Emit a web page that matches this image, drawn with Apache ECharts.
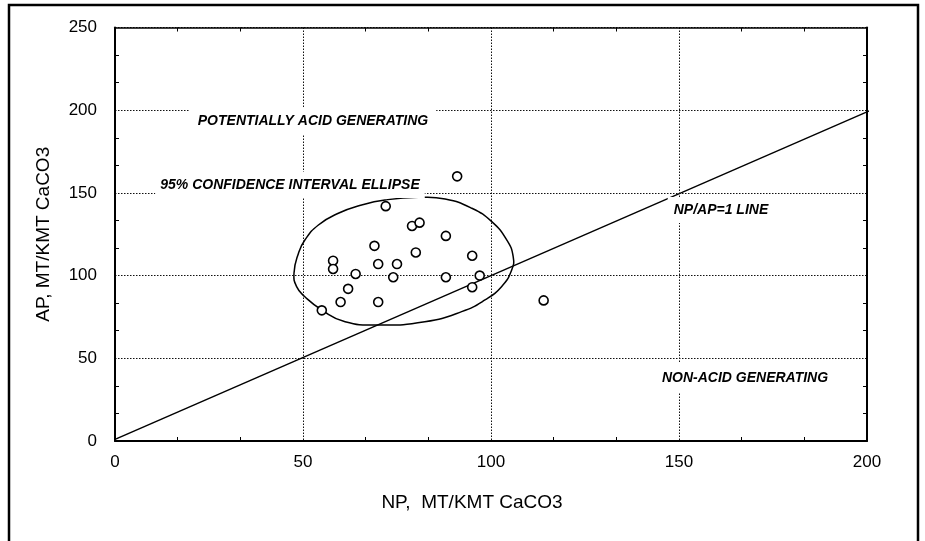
<!DOCTYPE html>
<html><head><meta charset="utf-8">
<script src="https://cdn.jsdelivr.net/npm/echarts@6/dist/echarts.min.js"></script>
<style>html,body{margin:0;padding:0;background:#fff}#c{width:925px;height:541px}</style>
</head><body><div id="c"></div>
<script>
// Sample points (NP vs AP, MT/KMT CaCO3)
const npValues = [72, 79, 81, 69, 80, 58, 58, 70, 75, 64, 74, 62, 60, 70, 55, 91, 88, 95, 88, 97, 95, 114];
const apValues = [142, 130, 132, 118, 114, 109, 104, 107, 107, 101, 99, 92, 84, 84, 79, 160, 124, 112, 99, 100, 93, 85];

// 95% confidence ellipse outline
const ellipseNP = [47.6, 48.8, 50.5, 54.1, 59.4, 65.6, 71.8, 80.7, 87.8, 94.9, 100.2, 104.2, 105.9, 105.5, 102.8, 98.4, 92.2, 82.4, 70.0, 61.2, 55.0, 50.5, 48.3];
const ellipseAP = [101.4, 113.5, 121.5, 130.6, 137.7, 142.7, 145.7, 147.3, 146.3, 140.7, 132.6, 121.5, 111.4, 103.4, 93.3, 85.3, 78.2, 72.1, 70.1, 72.1, 79.2, 87.2, 93.3];

// NP/AP = 1 line end points
const ratioLineNP = [0, 201];
const ratioLineAP = [1, 200];

// Axis ticks
const xTicks = [0, 50, 100, 150, 200];
const yTicks = [0, 50, 100, 150, 200, 250];

// Text
const xAxisTitle = 'NP,  MT/KMT CaCO3';
const yAxisTitle = 'AP, MT/KMT CaCO3';
const zoneLabels = ['POTENTIALLY ACID GENERATING', '95% CONFIDENCE INTERVAL ELLIPSE', 'NP/AP=1 LINE', 'NON-ACID GENERATING'];

const chart = echarts.init(document.getElementById('c'), null, {renderer: 'canvas'});
const FONT = '"Liberation Sans", Arial, sans-serif';
const gridDots = {show: true, lineStyle: {color: '#111', width: 1, type: [1.5, 1.5]}};
const minorTk = {show: true, splitNumber: 3, length: 4, lineStyle: {color: '#000', width: 1}};
const noteStyle = (text, x, y, pad) => ({
  type: 'text', z: 50, x: x, y: y,
  style: {text: text, fill: '#000', font: 'italic bold 14px ' + FONT, align: 'center', verticalAlign: 'middle',
          backgroundColor: '#fff', padding: pad}
});

chart.setOption({
  animation: false,
  backgroundColor: '#fff',
  grid: {left: 115, right: 58, top: 27.5, bottom: 100, show: false},
  xAxis: [{
    type: 'value', min: xTicks[0], max: xTicks[xTicks.length - 1], interval: xTicks[1] - xTicks[0],
    name: xAxisTitle, nameLocation: 'middle', nameGap: 52,
    nameTextStyle: {fontFamily: FONT, fontSize: 19, color: '#000', padding: [0, 38, 0, 0]},
    axisLine: {show: true, onZero: false, lineStyle: {color: '#000', width: 2}},
    axisTick: {show: false, inside: true},
    minorTick: minorTk,
    axisLabel: {fontFamily: FONT, fontSize: 17, color: '#000', margin: 13},
    splitLine: gridDots
  }, {
    type: 'value', position: 'top', min: xTicks[0], max: xTicks[xTicks.length - 1], interval: xTicks[1] - xTicks[0],
    axisLine: {show: true, onZero: false, lineStyle: {color: '#000', width: 1.5}},
    axisTick: {show: false, inside: true}, minorTick: minorTk,
    axisLabel: {show: false}, splitLine: {show: false}
  }],
  yAxis: [{
    type: 'value', min: yTicks[0], max: yTicks[yTicks.length - 1], interval: yTicks[1] - yTicks[0],
    name: yAxisTitle, nameLocation: 'middle', nameGap: 62,
    nameTextStyle: {fontFamily: FONT, fontSize: 19, color: '#000'},
    axisLine: {show: true, onZero: false, lineStyle: {color: '#000', width: 2}},
    axisTick: {show: false, inside: true},
    minorTick: minorTk,
    axisLabel: {fontFamily: FONT, fontSize: 17, color: '#000', margin: 18},
    splitLine: gridDots
  }, {
    type: 'value', position: 'right', min: yTicks[0], max: yTicks[yTicks.length - 1], interval: yTicks[1] - yTicks[0],
    axisLine: {show: true, onZero: false, lineStyle: {color: '#000', width: 2}},
    axisTick: {show: false, inside: true}, minorTick: minorTk,
    axisLabel: {show: false}, splitLine: {show: false}
  }],
  graphic: [
    {type: 'rect', z: 60, silent: true, shape: {x: 9, y: 5, width: 909, height: 560},
     style: {fill: 'none', stroke: '#000', lineWidth: 2.5}},
    noteStyle(zoneLabels[0], 313, 121, [6, 8, 6, 8]),
    noteStyle(zoneLabels[1], 290, 185, [6, 5, 6, 5]),
    noteStyle(zoneLabels[2], 721, 210, [6, 6, 6, 6]),
    noteStyle(zoneLabels[3], 745, 378, [8, 6, 8, 6])
  ],
  series: [
    {
      type: 'line', xAxisIndex: 0, yAxisIndex: 0, clip: false, silent: true, z: 3,
      data: ratioLineNP.map((x, i) => [x, ratioLineAP[i]]),
      showSymbol: false, symbol: 'none',
      lineStyle: {color: '#000', width: 1.5}
    },
    {
      type: 'custom', coordinateSystem: 'cartesian2d', xAxisIndex: 0, yAxisIndex: 0, clip: false, silent: true, z: 3,
      data: [[ellipseNP[0], ellipseAP[0]]],
      renderItem: (params, api) => ({
        type: 'polygon',
        shape: {points: ellipseNP.map((x, i) => api.coord([x, ellipseAP[i]])), smooth: 0.5},
        style: {fill: 'none', stroke: '#000', lineWidth: 1.5}
      })
    },
    {
      type: 'scatter', xAxisIndex: 0, yAxisIndex: 0, z: 5,
      data: npValues.map((x, i) => [x, apValues[i]]),
      symbol: 'circle', symbolSize: 9,
      itemStyle: {color: '#fff', borderColor: '#000', borderWidth: 1.6, opacity: 1}
    }
  ]
});
</script></body></html>
